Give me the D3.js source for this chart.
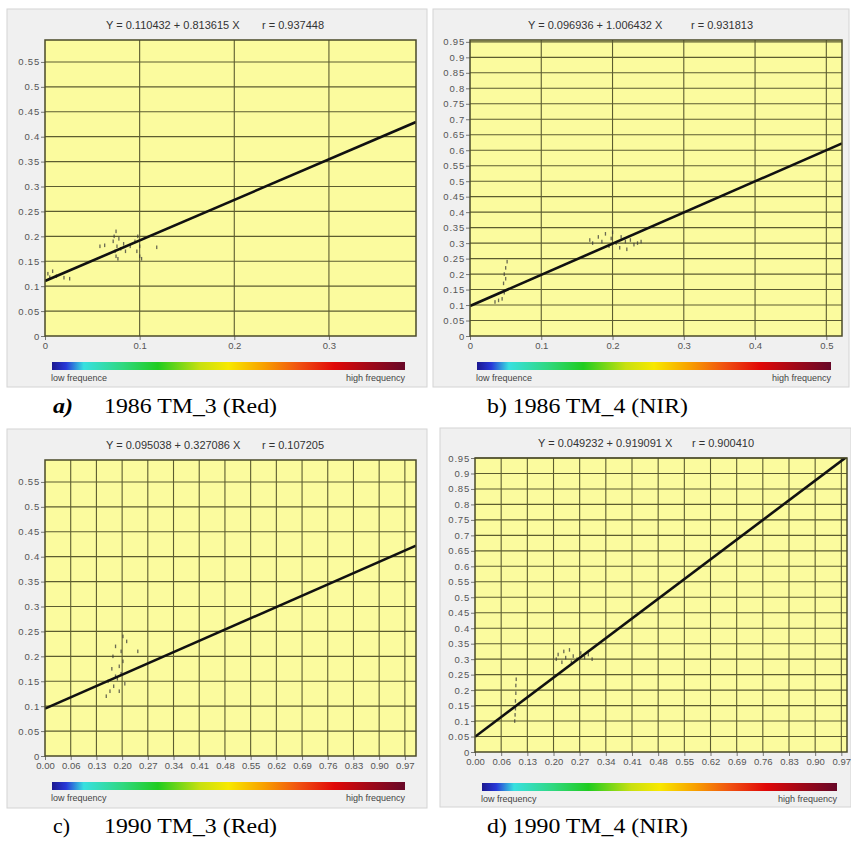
<!DOCTYPE html>
<html>
<head>
<meta charset="utf-8">
<script src="https://cdn.jsdelivr.net/npm/d3@7"></script>
<style>
  body { margin: 0; background: #fff; }
  svg text { font-family: "Liberation Sans", Arial, sans-serif; }
</style>
</head>
<body>
<div id="viz"></div>
<script>
// Four regression scatter plots (Landsat TM bands, 1986 / 1990).
// Values.

var fitIntercept = [0.110432, 0.096936, 0.095038, 0.049232];
var fitSlope     = [0.813615, 1.006432, 0.327086, 0.919091];
var fitText      = ["Y = 0.110432 + 0.813615 X", "Y = 0.096936 + 1.006432 X",
                    "Y = 0.095038 + 0.327086 X", "Y = 0.049232 + 0.919091 X"];
var rText        = ["r = 0.937448", "r = 0.931813", "r = 0.107205", "r = 0.900410"];

var xMax = [0.392, 0.522, 1.0, 0.985];
var yMax = [0.594, 0.956, 0.594, 0.95];

var xTicksA = [0, 0.1, 0.2, 0.3];
var xLabelsA = ["0", "0.1", "0.2", "0.3"];
var xTicksB = [0, 0.1, 0.2, 0.3, 0.4, 0.5];
var xLabelsB = ["0", "0.1", "0.2", "0.3", "0.4", "0.5"];
var xTicksCD = [0, 0.0693, 0.1386, 0.2079, 0.2771, 0.3464, 0.4157, 0.485, 0.5543,
                0.6236, 0.6929, 0.7621, 0.8314, 0.9007, 0.97];
var xLabelsCD = ["0.00", "0.06", "0.13", "0.20", "0.27", "0.34", "0.41", "0.48", "0.55",
                 "0.62", "0.69", "0.76", "0.83", "0.90", "0.97"];

var yTicksLow = [0, 0.05, 0.1, 0.15, 0.2, 0.25, 0.3, 0.35, 0.4, 0.45, 0.5, 0.55];
var yLabelsLow = ["0", "0.05", "0.1", "0.15", "0.2", "0.25", "0.3", "0.35", "0.4", "0.45", "0.5", "0.55"];
var yTicksHigh = [0, 0.05, 0.1, 0.15, 0.2, 0.25, 0.3, 0.35, 0.4, 0.45, 0.5, 0.55,
                  0.6, 0.65, 0.7, 0.75, 0.8, 0.85, 0.9, 0.95];
var yLabelsHigh = ["0", "0.05", "0.1", "0.15", "0.2", "0.25", "0.3", "0.35", "0.4", "0.45", "0.5", "0.55",
                   "0.6", "0.65", "0.7", "0.75", "0.8", "0.85", "0.9", "0.95"];

// scatter marks [x, y]
var pointsA = [[0.003,0.125],[0.005,0.118],[0.008,0.13],[0.012,0.12],[0.02,0.117],[0.026,0.115],
  [0.058,0.18],[0.063,0.182],[0.072,0.19],[0.073,0.2],[0.074,0.17],[0.075,0.16],[0.075,0.21],
  [0.076,0.18],[0.077,0.155],[0.078,0.195],[0.08,0.175],[0.083,0.185],[0.085,0.17],[0.09,0.18],
  [0.095,0.19],[0.097,0.17],[0.098,0.2],[0.1,0.16],[0.1,0.18],[0.102,0.155],[0.118,0.178]];
var pointsB = [[0.035,0.11],[0.04,0.115],[0.045,0.12],[0.048,0.14],[0.048,0.2],[0.05,0.22],
  [0.05,0.185],[0.052,0.24],[0.047,0.17],
  [0.168,0.31],[0.172,0.3],[0.18,0.32],[0.185,0.305],[0.19,0.33],[0.195,0.29],[0.198,0.315],
  [0.2,0.335],[0.205,0.3],[0.21,0.285],[0.212,0.32],[0.218,0.305],[0.22,0.28],[0.225,0.31],
  [0.23,0.295],[0.235,0.3],[0.24,0.305]];
var pointsC = [[0.165,0.12],[0.17,0.15],[0.175,0.13],[0.18,0.175],[0.183,0.2],[0.185,0.14],
  [0.19,0.16],[0.19,0.22],[0.195,0.155],[0.2,0.18],[0.2,0.13],[0.205,0.21],[0.205,0.165],
  [0.21,0.24],[0.21,0.19],[0.215,0.145],[0.22,0.23],[0.25,0.21]];
var pointsD = [[0.105,0.1],[0.106,0.12],[0.107,0.14],[0.107,0.165],[0.108,0.19],[0.108,0.215],
  [0.109,0.235],
  [0.215,0.3],[0.22,0.315],[0.23,0.29],[0.235,0.325],[0.24,0.305],[0.25,0.33],[0.255,0.29],
  [0.26,0.31],[0.27,0.3],[0.28,0.32],[0.29,0.305],[0.3,0.315],[0.31,0.3]];

var lowLabel = ["low frequence", "low frequence", "low frequency", "low frequency"];
var captionTag = ["a)", "b)", "c)", "d)"];
var captionText = ["1986 TM_3 (Red)", "1986 TM_4 (NIR)", "1990 TM_3 (Red)", "1990 TM_4 (NIR)"];

// layout of each panel (pixels); cap = [tag x, text x, baseline, tag width, text width]
var Panels = [
  {frame: [7, 9, 420, 378], plot: [45, 40, 416, 336], bar: [52, 405, 362], cap: [53, 104, 413, 20, 173],
   xt: xTicksA, xl: xLabelsA, yt: yTicksLow, yl: yLabelsLow, pts: pointsA, tx: 106, rx: 262},
  {frame: [433, 9, 416, 378], plot: [470, 40, 842, 336], bar: [477, 831, 362], cap: [487, null, 413, 0, 201],
   xt: xTicksB, xl: xLabelsB, yt: yTicksHigh, yl: yLabelsHigh, pts: pointsB, tx: 528, rx: 691},
  {frame: [7, 429, 420, 379], plot: [45, 460, 416, 756], bar: [52, 405, 782], cap: [53, 104, 833, 17, 173],
   xt: xTicksCD, xl: xLabelsCD, yt: yTicksLow, yl: yLabelsLow, pts: pointsC, tx: 106, rx: 262},
  {frame: [440, 428, 411, 379], plot: [475, 458, 847, 752], bar: [482, 837, 783], cap: [487, null, 833, 0, 201],
   xt: xTicksCD, xl: xLabelsCD, yt: yTicksHigh, yl: yLabelsHigh, pts: pointsD, tx: 538, rx: 692}
];

var svg = d3.select("#viz").append("svg")
    .attr("width", 851)
    .attr("height", 841);

var defs = svg.append("defs");
var grad = defs.append("linearGradient").attr("id", "freq");
[[0, "#1c1890"], [0.04, "#2838d8"], [0.09, "#38e0e0"], [0.2, "#30d880"], [0.3, "#20cc20"],
 [0.42, "#c8e010"], [0.5, "#f8e800"], [0.6, "#f8a000"], [0.7, "#f05010"], [0.8, "#e00808"],
 [0.9, "#a00818"], [1, "#680828"]].forEach(function(s) {
    grad.append("stop").attr("offset", s[0]).attr("stop-color", s[1]);
});

function add_panel(i) {
    var p = Panels[i];
    var g = svg.append("g");
    var l = p.plot[0], t = p.plot[1], r = p.plot[2], b = p.plot[3];

    g.append("rect")
        .attr("x", p.frame[0]).attr("y", p.frame[1])
        .attr("width", p.frame[2]).attr("height", p.frame[3])
        .attr("style", "fill:#f0f0f0;stroke:#d4d4d4;stroke-width:1");

    var x = d3.scaleLinear().domain([0, xMax[i]]).range([l, r]);
    var y = d3.scaleLinear().domain([0, yMax[i]]).range([b, t]);

    g.append("rect")
        .attr("x", l).attr("y", t).attr("width", r - l).attr("height", b - t)
        .attr("fill", "#fbfb9e");

    // grid
    g.append("g").selectAll("line").data(p.yt.slice(1)).join("line")
        .attr("x1", l).attr("x2", r)
        .attr("y1", function(d) { return y(d); }).attr("y2", function(d) { return y(d); })
        .attr("stroke", "#5c5c30").attr("stroke-width", 1.1);
    g.append("g").selectAll("line").data(p.xt.slice(1)).join("line")
        .attr("y1", t).attr("y2", b)
        .attr("x1", function(d) { return x(d); }).attr("x2", function(d) { return x(d); })
        .attr("stroke", "#5c5c30").attr("stroke-width", 1.1);

    // axes
    var ya = d3.axisLeft(y).tickValues(p.yt).tickSize(4)
        .tickFormat(function(d, k) { return p.yl[k]; });
    var xa = d3.axisBottom(x).tickValues(p.xt).tickSize(4)
        .tickFormat(function(d, k) { return p.xl[k]; });
    var gy = g.append("g").attr("transform", "translate(" + l + ",0)").call(ya);
    var gx = g.append("g").attr("transform", "translate(0," + b + ")").call(xa);
    [gx, gy].forEach(function(a) {
        a.select(".domain").remove();
        a.selectAll(".tick line").attr("stroke", "#777");
        a.selectAll(".tick text").attr("fill", "#555")
            .style("font-size", "9.5px").style("font-family", "Liberation Sans, Arial, sans-serif");
    });
    gy.selectAll(".tick text").attr("x", -5).style("letter-spacing", "0.8px");
    gx.selectAll(".tick text").attr("y", 6);

    // scatter marks
    g.append("g").selectAll("rect").data(p.pts).join("rect")
        .attr("x", function(d) { return x(d[0]) - 0.6; })
        .attr("y", function(d) { return y(d[1]) - 1.8; })
        .attr("width", 1.3).attr("height", 3.6)
        .attr("fill", "#3a3a3a").attr("opacity", 0.75);

    // regression line, clipped to plot
    defs.append("clipPath").attr("id", "clip" + i)
        .append("rect").attr("x", l).attr("y", t).attr("width", r - l).attr("height", b - t);
    var line = d3.line().x(function(d) { return x(d); })
        .y(function(d) { return y(fitIntercept[i] + fitSlope[i] * d); });
    g.append("path")
        .datum([0, xMax[i]])
        .attr("d", line)
        .attr("clip-path", "url(#clip" + i + ")")
        .attr("fill", "none").attr("stroke", "#111").attr("stroke-width", 2.6);

    // plot border
    g.append("rect")
        .attr("x", l).attr("y", t).attr("width", r - l).attr("height", b - t)
        .attr("style", "fill:none;stroke:#4a4a28;stroke-width:1.5");

    // equation
    g.append("text").attr("x", p.tx).attr("y", t - 11)
        .attr("fill", "#333").style("font-size", "11px").text(fitText[i]);
    g.append("text").attr("x", p.rx).attr("y", t - 11)
        .attr("fill", "#333").style("font-size", "11px").text(rText[i]);

    // frequency bar
    g.append("rect")
        .attr("x", p.bar[0]).attr("y", p.bar[2])
        .attr("width", p.bar[1] - p.bar[0]).attr("height", 8)
        .attr("fill", "url(#freq)");
    g.append("text").attr("x", p.bar[0] - 1).attr("y", p.bar[2] + 19)
        .attr("fill", "#444").style("font-size", "9px").text(lowLabel[i]);
    g.append("text").attr("x", p.bar[1]).attr("y", p.bar[2] + 19)
        .attr("text-anchor", "end")
        .attr("fill", "#444").style("font-size", "9px").text("high frequency");

    // caption (the figure text is stretched wide, hence textLength)
    function caption(xpos, width, str, bold) {
        var tx = g.append("text").attr("x", xpos).attr("y", p.cap[2])
            .style("font-family", "Liberation Serif, Times New Roman, serif")
            .style("font-size", "20px").attr("fill", "#000")
            .attr("textLength", width).attr("lengthAdjust", "spacingAndGlyphs")
            .text(str);
        if (bold) tx.style("font-weight", "bold").style("font-style", "italic");
    }
    if (p.cap[1] === null) {
        caption(p.cap[0], p.cap[4], captionTag[i] + " " + captionText[i], false);
    } else {
        caption(p.cap[0], p.cap[3], captionTag[i], i == 0);
        caption(p.cap[1], p.cap[4], captionText[i], false);
    }
}

for (var i = 0; i < Panels.length; i++) add_panel(i);
</script>
</body>
</html>
